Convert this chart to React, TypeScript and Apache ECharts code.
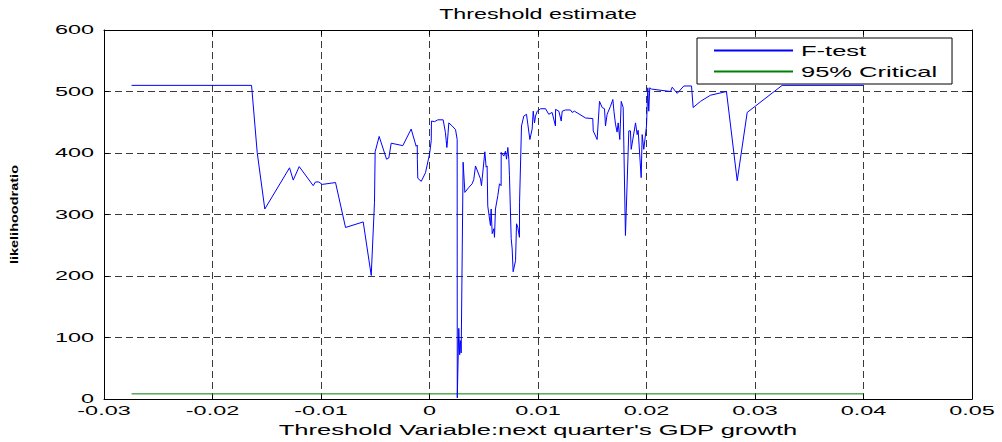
import React, { useEffect, useRef } from "react";
import * as echarts from "echarts";

const TITLE = "Threshold estimate";
const X_NAME = "Threshold Variable:next quarter's GDP growth";
const Y_NAME = "likelihoodratio";
const SERIES_NAMES = ["F-test", "95% Critical"];

const thresholdX = [
  -0.02746, -0.0164, -0.01588, -0.01518, -0.0129, -0.01256, -0.01201, -0.01072, -0.01051, -0.0102,
  -0.00989, -0.00866, -0.00774, -0.00611, -0.00537, -0.00507, -0.00501, -0.00464, -0.00396, -0.00375,
  -0.00353, -0.00246, -0.00169, -0.00123, -0.00113, -0.00112, -0.00108, -0.00076, -0.00037, 0.0,
  0.00016, 0.00018, 0.00046, 0.00077, 0.00126, 0.00147, 0.0016, 0.00166, 0.00178, 0.00209,
  0.0024, 0.00255, 0.00256, 0.0027, 0.00278, 0.00285, 0.00292, 0.0031, 0.00326, 0.00362,
  0.00393, 0.00408, 0.00424, 0.0047, 0.00479, 0.00486, 0.0051, 0.00522, 0.00531, 0.00537,
  0.00562, 0.00568, 0.00578, 0.00593, 0.00599, 0.00608, 0.0063, 0.00645, 0.0066, 0.00661,
  0.00685, 0.007, 0.0071, 0.00722, 0.00731, 0.00737, 0.00753, 0.00762, 0.00771, 0.00793,
  0.00802, 0.00814, 0.00829, 0.0083, 0.00848, 0.00869, 0.00894, 0.00906, 0.00925, 0.00946,
  0.00956, 0.00968, 0.00977, 0.00993, 0.01023, 0.0107, 0.01099, 0.0113, 0.01161, 0.01162,
  0.01192, 0.01214, 0.01223, 0.01253, 0.01299, 0.01315, 0.01336, 0.01438, 0.01505, 0.01509,
  0.01545, 0.01567, 0.01591, 0.01613, 0.01622, 0.01637, 0.01668, 0.0169, 0.017, 0.01714,
  0.01729, 0.01739, 0.01754, 0.01767, 0.01785, 0.01806, 0.01837, 0.01852, 0.01859, 0.01899,
  0.01914, 0.01923, 0.01951, 0.0196, 0.01975, 0.02, 0.02012, 0.02021, 0.0203, 0.02046,
  0.02221, 0.02237, 0.02283, 0.02344, 0.02415, 0.0243, 0.02498, 0.0259, 0.02737, 0.02836,
  0.02928, 0.0325, 0.04,
];

const fTest = [
  510, 510, 401, 309, 376, 356, 378, 347, 353, 353,
  349, 352, 279, 288, 201, 320, 402, 427, 390, 392,
  416, 412, 439, 411, 413, 390, 359, 354, 368, 398,
  420, 452, 451, 454, 454, 433, 409, 420, 449, 444,
  438, 422, 2, 115, 72, 95, 75, 385, 336, 344,
  350, 357, 379, 358, 347, 359, 402, 377, 379, 314,
  282, 309, 269, 277, 263, 309, 331, 350, 347, 401,
  395, 403, 390, 409, 390, 363, 261, 244, 207, 225,
  285, 279, 263, 320, 444, 460, 463, 447, 422, 439,
  468, 449, 460, 468, 472, 472, 463, 466, 444, 471,
  468, 452, 468, 470, 470, 466, 468, 457, 456, 436,
  422, 484, 474, 472, 444, 463, 476, 487, 468, 447,
  434, 449, 422, 484, 474, 266, 436, 436, 406, 449,
  430, 437, 360, 430, 406, 444, 506, 468, 506, 504,
  500, 507, 497, 509, 509, 474, 484, 494, 500, 355,
  466, 510, 510,
];

const criticalX = [-0.02746, 0.04];
const criticalY = [8.5, 8.5];

const xTicks = { min: -0.03, max: 0.05, interval: 0.01 };
const yTicks = { min: 0, max: 600, interval: 100 };

const FONT = "'Liberation Sans', Arial, Helvetica, sans-serif";

function stretchTexts(root: HTMLElement) {
  const texts = root.querySelectorAll("text");
  texts.forEach((node) => {
    const t = node as SVGTextElement;
    if (t.getAttribute("data-st")) return;
    const s = (t.textContent || "").trim();
    if (!s) return;
    let f = 1.7;
    if (/^-?[\d.]+$/.test(s)) f = 1.95;
    else if (s === TITLE) f = 1.55;
    else if (s === Y_NAME) f = 1.45;
    let w = 0;
    try {
      w = t.getComputedTextLength();
    } catch (e) {
      w = 0;
    }
    if (w > 0) {
      t.setAttribute("textLength", String(w * f));
      t.setAttribute("lengthAdjust", "spacingAndGlyphs");
      t.setAttribute("data-st", "1");
    }
  });
}

export default function App() {
  const ref = useRef<HTMLDivElement>(null);

  useEffect(() => {
    document.body.style.margin = "0";
    if (!ref.current) return;
    const chart = echarts.init(ref.current, undefined, { renderer: "svg" });
    const gridLine = { show: true, lineStyle: { color: "#3a3a3a", width: 1, type: [7, 4] as any } };
    const axisLine = { show: true, onZero: false, lineStyle: { color: "#000", width: 1 } };
    const tick = { show: true, inside: true, length: 5, lineStyle: { color: "#000", width: 1 } };

    chart.setOption({
      animation: false,
      backgroundColor: "#fff",
      textStyle: { fontFamily: FONT, color: "#000" },
      grid: { left: 104, right: 30, top: 30, bottom: 41, containLabel: false },
      graphic: [
        {
          type: "text",
          x: 538,
          y: 13,
          style: {
            text: TITLE,
            fontSize: 15,
            fontFamily: FONT,
            fill: "#000",
            textAlign: "center",
            textVerticalAlign: "middle",
          },
        },
      ],
      legend: {
        orient: "vertical",
        left: 697,
        top: 38,
        padding: [5, 71, 5, 16],
        itemWidth: 79,
        itemHeight: 14,
        itemGap: 6,
        backgroundColor: "#fff",
        borderColor: "#000",
        borderWidth: 1,
        borderRadius: 0,
        data: SERIES_NAMES,
        itemStyle: { opacity: 0 },
        textStyle: { fontSize: 15, color: "#000", fontFamily: FONT, padding: [0, 0, 0, 3] },
      },
      xAxis: [
        {
          type: "value",
          position: "bottom",
          ...xTicks,
          name: X_NAME,
          nameLocation: "middle",
          nameGap: 22,
          nameTextStyle: { fontSize: 15, color: "#000", fontFamily: FONT },
          axisLine,
          axisTick: tick,
          axisLabel: {
            fontSize: 12,
            color: "#000",
            margin: 6,
            fontFamily: FONT,
            formatter: (v: number) => String(parseFloat(v.toFixed(4))),
          },
          splitLine: gridLine,
        },
        {
          type: "value",
          position: "top",
          ...xTicks,
          axisLine,
          axisTick: tick,
          axisLabel: { show: false },
          splitLine: { show: false },
        },
      ],
      yAxis: [
        {
          type: "value",
          position: "left",
          ...yTicks,
          name: Y_NAME,
          nameLocation: "middle",
          nameGap: 85,
          nameRotate: 90,
          nameTextStyle: { fontSize: 10, fontWeight: "bold", color: "#000", fontFamily: FONT },
          axisLine,
          axisTick: tick,
          axisLabel: { fontSize: 12, color: "#000", margin: 10, fontFamily: FONT },
          splitLine: gridLine,
        },
        {
          type: "value",
          position: "right",
          ...yTicks,
          axisLine,
          axisTick: tick,
          axisLabel: { show: false },
          splitLine: { show: false },
        },
      ],
      series: [
        {
          name: SERIES_NAMES[0],
          type: "line",
          data: thresholdX.map((x, i) => [x, fTest[i]]),
          symbol: "none",
          lineStyle: { color: "#0000ff", width: 1 },
          itemStyle: { color: "#0000ff" },
          z: 3,
        },
        {
          name: SERIES_NAMES[1],
          type: "line",
          data: criticalX.map((x, i) => [x, criticalY[i]]),
          symbol: "none",
          lineStyle: { color: "#008000", width: 1 },
          itemStyle: { color: "#008000" },
          z: 2,
        },
      ],
    });

    const el = ref.current;
    stretchTexts(el);
    chart.on("finished", () => stretchTexts(el));
    const timer = setTimeout(() => stretchTexts(el), 30);

    return () => {
      clearTimeout(timer);
      chart.dispose();
    };
  }, []);

  return <div ref={ref} style={{ width: 1002, height: 442 }} />;
}
